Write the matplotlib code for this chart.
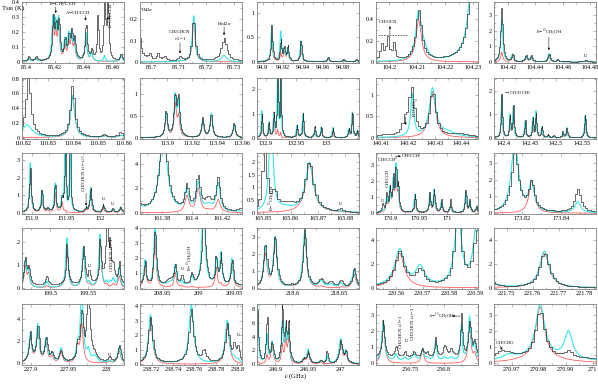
import matplotlib
matplotlib.use("Agg")
import matplotlib.pyplot as plt
from matplotlib.ticker import FixedLocator, FuncFormatter, AutoMinorLocator
import numpy as np

plt.rcParams["font.family"] = ["Liberation Serif", "DejaVu Serif"]
plt.rcParams["mathtext.fontset"] = "stix"

# ─── Line lists ──────────────────────────────────────────────
# (centre GHz, observed K, full model K, partial model K[, hwhm GHz])

LINES_P01 = [
    (85.4015, 0.03, 0.02, 0.02), (85.4065, 0.03, 0.02, 0.02),
    (85.4185, 0.28, 0.27, 0.24), (85.4205, 0.22, 0.22, 0.17),
    (85.4225, 0.26, 0.26, 0.21), (85.4268, 0.14, 0.13, 0.10),
    (85.4295, 0.16, 0.16, 0.12), (85.4315, 0.18, 0.17, 0.14),
    (85.4335, 0.13, 0.12, 0.10), (85.4415, 0.26, 0.19, 0.17),
    (85.4455, 0.07, 0.06, 0.06), (85.4497, 0.32, 0.0, 0.0, 0.0006),
    (85.4544, 0.50, 0.04, 0.0, 0.0006), (85.4567, 0.50, 0.0, 0.0, 0.0006),
    (85.4660, 0.05, 0.04, 0.04),
]
LINES_P02 = [
    (85.6955, 0.13, 0.0, 0.0, 0.001), (85.6995, 0.03, 0.0, 0.0),
    (85.7025, 0.03, 0.0, 0.0), (85.7050, 0.02, 0.0, 0.0),
    (85.7105, 0.02, 0.005, 0.005), (85.7155, 0.22, 0.215, 0.19),
    (85.7265, 0.105, 0.03, 0.0, 0.0012),
]
LINES_P03 = [
    (94.909, 0.74, 0.70, 0.50), (94.918, 0.45, 0.60, 0.15),
    (94.9215, 0.28, 0.24, 0.22), (94.9250, 0.33, 0.26, 0.25),
    (94.938, 0.43, 0.42, 0.36), (94.965, 0.09, 0.08, 0.06),
    (94.980, 0.05, 0.04, 0.03), (94.993, 0.05, 0.03, 0.03),
]
LINES_P04 = [
    (104.1972, 0.14, 0.0, 0.0, 0.0006), (104.1993, 0.21, 0.0, 0.0, 0.0006),
    (104.2016, 0.15, 0.0, 0.0, 0.0006), (104.2105, 0.47, 0.44, 0.39, 0.0012),
    (104.2125, 0.0, 0.08, 0.0, 0.0015), (104.2305, 1.2, 1.2, 0.0, 0.0018),
]
LINES_P05 = [
    (104.4153, 3.5, 2.7, 0.62), (104.4232, 0.48, 0.48, 0.33),
    (104.4331, 0.42, 0.37, 0.28), (104.4368, 0.37, 0.32, 0.27),
    (104.4499, 0.53, 0.53, 0.44), (104.4565, 0.16, 0.13, 0.10),
    (104.4770, 0.12, 0.08, 0.05),
]
LINES_P06 = [
    (110.8220, 0.80, 0.0, 0.0, 0.0012), (110.8215, 0.0, 0.17, 0.0, 0.0025),
    (110.8397, 0.72, 0.57, 0.54, 0.001), (110.8525, 0.03, 0.02, 0.02),
    (110.8590, 0.06, 0.03, 0.03),
]
LINES_P07 = [
    (113.8995, 0.62, 0.56, 0.52), (113.9067, 0.95, 0.92, 0.75),
    (113.9094, 0.90, 0.78, 0.45), (113.9288, 0.44, 0.40, 0.35),
    (113.9356, 0.56, 0.56, 0.50), (113.9539, 0.35, 0.30, 0.28),
]
LINES_P08 = [
    (132.894, 0.95, 1.10, 0.80), (132.9055, 0.6, 0.6, 0.5),
    (132.9137, 0.95, 0.9, 1.05), (132.920, 2.8, 2.8, 0.3, 0.001),
    (132.925, 2.8, 2.6, 0.2, 0.001), (132.9517, 0.5, 0.5, 0.45),
    (132.9616, 1.0, 0.95, 0.9), (132.981, 0.5, 0.3, 0.25),
    (132.9917, 0.46, 0.43, 0.36), (133.011, 0.38, 0.43, 0.28),
    (133.037, 0.33, 0.33, 0.28), (133.043, 1.1, 1.05, 1.0),
    (133.051, 0.28, 0.28, 0.23),
]
LINES_P09 = [
    (140.4291, 1.05, 1.12, 1.08, 0.0014), (140.4345, 0.0, 0.12, 0.0, 0.004),
    (140.4212, 1.15, 0.0, 0.0, 0.0012), (140.4186, 0.3, 0.0, 0.0, 0.001),
    (140.4215, 0.0, 1.0, 0.0, 0.0007), (140.4400, 0.08, 0.0, 0.0, 0.005),
    (140.4110, 0.05, 0.0, 0.0, 0.004),
]
LINES_P10 = [
    (142.397, 1.92, 1.82, 1.63), (142.4127, 0.9, 0.95, 0.8),
    (142.419, 1.35, 1.3, 1.25), (142.4413, 0.78, 0.68, 0.58),
    (142.4559, 0.8, 0.8, 0.66), (142.4622, 1.0, 1.12, 0.92),
    (142.473, 0.48, 0.43, 0.33), (142.485, 0.1, 0.08, 0.05),
    (142.495, 0.1, 0.05, 0.05), (142.513, 0.24, 0.2, 0.15),
    (142.5205, 0.43, 0.43, 0.36), (142.5553, 0.97, 0.94, 0.89),
]
LINES_P11 = [
    (151.8975, 2.5, 2.8, 2.5), (151.9146, 1.25, 1.2, 0.95),
    (151.923, 0.22, 0.18, 0.13), (151.934, 1.55, 1.6, 1.15),
    (151.9439, 0.7, 0.7, 0.62), (151.9487, 5.0, 5.0, 0.1, 0.001),
    (151.9560, 5.0, 4.0, 0.0, 0.001), (151.9794, 0.25, 0.2, 0.15),
    (151.986, 1.45, 1.4, 1.15), (152.0047, 0.42, 0.38, 0.24),
    (152.0184, 0.2, 0.15, 0.1), (152.030, 0.3, 0.3, 0.25),
]
LINES_P12 = [
    (161.381, 7.0, 6.5, 0.0, 0.003), (161.362, 1.0, 0.7, 0.0, 0.004),
    (161.3967, 2.0, 1.7, 1.35), (161.4042, 2.8, 2.3, 1.95),
    (161.4175, 2.6, 2.3, 1.05), (161.4110, 1.0, 0.5, 0.15, 0.003),
    (161.4360, 0.6, 0.2, 0.0, 0.004),
]
LINES_P13 = [
    (165.8505, 5.0, 0.0, 0.0, 0.0006), (165.8528, 0.0, 4.0, 0.0, 0.0008),
    (165.8540, 0.7, 0.0, 0.0, 0.0012), (165.8590, 0.3, 0.0, 0.0, 0.004),
    (165.8580, 0.0, 0.15, 0.0, 0.004), (165.8670, 1.95, 1.95, 1.9, 0.0018),
    (165.8785, 0.12, 0.02, 0.0, 0.0012),
]
LINES_P14 = [
    (170.8859, 0.45, 0.1, 0.05), (170.893, 1.1, 0.9, 0.75),
    (170.8988, 1.4, 1.4, 1.45), (170.9046, 2.1, 1.8, 1.8),
    (170.9094, 2.5, 2.7, 2.3), (170.9134, 1.5, 1.3, 1.1),
    (170.943, 1.1, 1.1, 1.0), (170.9694, 1.25, 1.15, 1.0),
    (170.977, 1.4, 1.4, 1.2), (170.990, 0.8, 0.7, 0.6),
    (171.006, 0.8, 0.45, 0.4), (171.033, 1.35, 1.25, 1.15),
    (171.040, 0.75, 0.65, 0.55), (171.052, 0.38, 0.33, 0.28),
]
LINES_P15 = [
    (173.8165, 3.8, 4.3, 0.0, 0.0022), (173.8251, 1.7, 1.7, 1.9, 0.0017),
    (173.8487, 1.35, 0.65, 0.0, 0.0018),
]
LINES_P16 = [
    (199.4674, 1.15, 1.15, 0.9), (199.4717, 0.7, 0.7, 0.55),
    (199.4957, 0.4, 0.28, 0.07), (199.5218, 1.75, 2.15, 1.8),
    (199.5435, 1.65, 1.75, 1.7), (199.5513, 0.55, 0.18, 0.08),
    (199.5653, 1.9, 2.3, 1.95), (199.5740, 3.5, 0.2, 0.1, 0.0015),
    (199.5785, 1.6, 0.2, 0.0, 0.0015), (199.5826, 0.7, 0.35, 0.15),
    (199.5904, 0.95, 0.9, 0.5),
]
LINES_P17 = [
    (208.9256, 1.6, 1.7, 1.55), (208.9395, 3.8, 4.2, 3.35),
    (208.9600, 0.4, 0.2, 0.0, 0.005), (208.9675, 1.3, 1.35, 1.0),
    (208.9768, 0.6, 0.3, 0.1), (208.9908, 0.75, 0.65, 0.05),
    (209.0070, 6.0, 6.0, 0.0, 0.0025), (209.0247, 1.8, 1.7, 1.35),
    (209.0313, 2.0, 2.1, 0.2), (209.0466, 1.7, 1.8, 1.85),
]
LINES_P18 = [
    (218.5697, 2.5, 2.4, 1.95), (218.5804, 3.0, 2.95, 2.8),
    (218.5980, 0.1, 0.08, 0.05), (218.6125, 3.45, 3.35, 3.15),
    (218.6304, 0.45, 0.4, 0.08, 0.003), (218.6410, 0.3, 0.2, 0.0, 0.003),
    (218.6518, 0.38, 0.28, 0.05), (218.6660, 1.15, 1.1, 0.82),
]
LINES_P19 = [
    (220.5612, 2.85, 3.05, 2.9), (220.5690, 1.25, 1.55, 0.0, 0.002),
    (220.5835, 6.0, 6.0, 0.0, 0.0015), (220.5905, 4.5, 5.0, 0.0, 0.0015),
]
LINES_P20 = [
    (221.7645, 2.9, 3.05, 2.9), (221.7420, 0.8, 0.8, 0.05, 0.003),
]
LINES_P21 = [
    (227.899, 2.7, 2.6, 2.35), (227.909, 3.3, 3.4, 3.05),
    (227.920, 2.1, 2.1, 1.75), (227.928, 0.8, 0.8, 0.5),
    (227.940, 1.0, 1.3, 0.95), (227.962, 1.3, 1.3, 1.4),
    (227.9676, 4.3, 6.5, 3.4), (227.9764, 7.0, 1.0, 0.0),
    (227.9850, 0.6, 0.6, 0.0, 0.004), (228.0043, 0.4, 0.2, 0.15),
    (228.0175, 1.55, 1.45, 1.15),
]
LINES_P22 = [
    (238.7190, 3.15, 3.35, 3.1), (238.7570, 3.7, 4.05, 0.0, 0.0025),
    (238.7690, 0.8, 0.0, 0.0, 0.002), (238.7905, 2.65, 2.95, 2.75),
    (238.7970, 1.0, 0.2, 0.0, 0.0015), (238.8005, 0.9, 0.2, 0.0, 0.0015),
]
LINES_P23 = [
    (246.8725, 8.5, 8.5, 0.5, 0.0015), (246.8870, 6.8, 4.0, 1.2, 0.0015),
    (246.8950, 2.8, 3.0, 2.6), (246.9105, 9.5, 5.5, 2.6, 0.0015),
    (246.9160, 5.0, 5.0, 3.3, 0.0018), (246.9205, 6.0, 4.2, 3.5, 0.0015),
    (246.9435, 0.7, 0.55, 0.45), (246.9500, 1.7, 2.0, 1.6),
    (246.9692, 0.42, 0.38, 0.28), (246.9790, 1.75, 1.15, 0.0, 0.0015),
    (247.0000, 3.3, 3.5, 3.1, 0.0028), (247.0080, 1.6, 1.6, 1.35),
]
LINES_P24 = [
    (256.7107, 2.4, 2.5, 2.7, 0.0024), (256.7294, 0.7, 0.4, 0.0),
    (256.7426, 0.35, 0.2, 0.0), (256.7559, 0.35, 0.4, 0.0, 0.003),
    (256.7687, 0.5, 0.7, 0.85), (256.7754, 0.3, 0.15, 0.0),
    (256.7880, 1.3, 1.25, 0.0, 0.0018), (256.8015, 0.7, 0.2, 0.0, 0.003),
    (256.8110, 0.5, 0.2, 0.0, 0.003), (256.8260, 2.7, 2.2, 0.0, 0.0015),
    (256.8380, 2.2, 2.7, 2.6, 0.0022), (256.8456, 1.0, 1.0, 0.55),
]
LINES_P25 = [
    (270.9805, 3.0, 3.3, 3.2, 0.002), (270.9810, 0.0, 0.25, 0.3, 0.01),
    (270.9690, 0.3, 0.3, 0.0, 0.003), (270.9660, 0.3, 0.0, 0.0, 0.002),
    (270.9910, 0.4, 1.7, 0.0, 0.0018),
]

LINES = [LINES_P01, LINES_P02, LINES_P03, LINES_P04, LINES_P05,
         LINES_P06, LINES_P07, LINES_P08, LINES_P09, LINES_P10,
         LINES_P11, LINES_P12, LINES_P13, LINES_P14, LINES_P15,
         LINES_P16, LINES_P17, LINES_P18, LINES_P19, LINES_P20,
         LINES_P21, LINES_P22, LINES_P23, LINES_P24, LINES_P25]

# default line half width (GHz) and spectrometer channel (GHz) per panel
HWHM = [0.0008, 0.0006, 0.0009, 0.001, 0.0009,
        0.001, 0.0011, 0.0012, 0.0012, 0.0013,
        0.0014, 0.0016, 0.0015, 0.0016, 0.0017,
        0.0018, 0.0018, 0.0022, 0.0022, 0.0022,
        0.0022, 0.0022, 0.0023, 0.0023, 0.0022]
CHAN = [0.0007, 0.0006, 0.0007, 0.0007, 0.0007,
        0.0008, 0.0008, 0.0009, 0.0009, 0.0009,
        0.001, 0.001, 0.001, 0.001, 0.001,
        0.0012, 0.0012, 0.0012, 0.0011, 0.0011,
        0.0012, 0.0012, 0.0012, 0.0013, 0.0011]
# continuum-like offsets (observed, full model, partial model)
BASE = [(0.005, 0, 0), (0.005, 0, 0), (0.005, 0, 0), (0.01, 0, 0), (0.02, 0, 0),
        (0.01, 0, 0), (0.01, 0, 0), (0.02, 0, 0), (0.0, 0, 0), (0.03, 0, 0),
        (0.05, 0.03, 0), (0.0, 0, 0), (0.0, 0, 0), (0.05, 0.03, 0), (0.05, 0, 0),
        (0.12, 0, 0), (0.15, 0.1, 0), (0.05, 0, 0), (0.1, 0.1, 0), (0.02, 0, 0),
        (0.1, 0, 0), (0.1, 0.05, 0), (0.1, 0.1, 0), (0.35, 0.15, 0), (0.3, 0.1, 0)]

XLIMS = [(85.397, 85.468), (85.696, 85.733), (94.8944, 94.9956), (104.1952, 104.2318), (104.4096, 104.4845),
         (110.8195, 110.8602), (113.8784, 113.9602), (132.886, 133.054), (140.4079, 140.4462), (142.3823, 142.576),
         (151.8854, 152.035), (161.3655, 161.4333), (165.8476, 165.8853), (170.874, 171.0548), (173.8058, 173.8581),
         (199.463, 199.5966), (208.9186, 209.0606), (218.5607, 218.6714), (220.5522, 220.5911), (221.7451, 221.7843),
         (227.888, 228.0239), (238.7092, 238.8042), (246.8718, 247.0281), (256.70, 256.8505), (270.9634, 271.0012)]
YLIMS = [(-0.01, 0.4), (-0.005, 0.28), (-0.03, 1.22), (-0.01, 0.56), (-0.07, 3.85),
         (-0.02, 0.81), (-0.03, 1.38), (-0.05, 2.47), (-0.03, 1.4), (-0.05, 2.55),
         (-0.08, 3.4), (-0.1, 4.9), (-0.05, 2.35), (-0.05, 3.75), (-0.05, 3.6),
         (-0.05, 2.6), (-0.1, 4.0), (-0.05, 3.55), (-0.1, 5.0), (-0.1, 5.0),
         (-0.15, 5.4), (-0.05, 4.15), (-0.1, 8.7), (-0.1, 3.7), (-0.1, 3.7)]
XTICKS = [[85.4, 85.42, 85.44, 85.46], [85.7, 85.71, 85.72, 85.73],
          [94.9, 94.92, 94.94, 94.96, 94.98], [104.2, 104.21, 104.22, 104.23],
          [104.42, 104.44, 104.46, 104.48],
          [110.82, 110.83, 110.84, 110.85, 110.86], [113.9, 113.92, 113.94, 113.96],
          [132.9, 132.95, 133], [140.41, 140.42, 140.43, 140.44], [142.4, 142.45, 142.5, 142.55],
          [151.9, 151.95, 152], [161.38, 161.4, 161.42], [165.85, 165.86, 165.87, 165.88],
          [170.9, 170.95, 171], [173.82, 173.84],
          [199.5, 199.55], [208.95, 209, 209.05], [218.6, 218.65],
          [220.56, 220.57, 220.58, 220.59], [221.75, 221.76, 221.77, 221.78],
          [227.9, 227.95, 228], [238.72, 238.74, 238.76, 238.78, 238.8],
          [246.9, 246.95, 247], [256.75, 256.8], [270.97, 270.98, 270.99, 271]]
YTICKS = [[0, 0.1, 0.2, 0.3, 0.4], [0, 0.1, 0.2], [0, 0.5, 1], [0, 0.2, 0.4], [0, 1, 2, 3],
          [0, 0.2, 0.4, 0.6, 0.8], [0, 0.5, 1], [0, 1, 2], [0, 0.5, 1], [0, 1, 2],
          [0, 1, 2, 3], [0, 2, 4], [0, 0.5, 1, 1.5, 2], [0, 1, 2, 3], [0, 1, 2, 3],
          [0, 1, 2], [0, 1, 2, 3, 4], [0, 1, 2, 3], [0, 2, 4], [0, 2, 4],
          [0, 2, 4], [0, 1, 2, 3, 4], [0, 2, 4, 6, 8], [0, 1, 2, 3], [0, 1, 2, 3]]

OBS_COLOR = "#303030"
FULL_COLOR = "#2fe6e6"
PART_COLOR = "#ff5050"
FRAME = "#808080"

W, H = 598, 384
COL_LEFT = [22, 140, 257, 376, 494]
ROW_TOP = [2, 78, 153, 228, 304]
PW, PH = 102, 61


def spectrum(x, lines, k, hw):
    y = np.zeros_like(x)
    for ln in lines:
        w = ln[4] if len(ln) > 4 else hw
        y += ln[k] / (1.0 + ((x - ln[0]) / w) ** 2)
    return y


def fmt(v, _pos=None):
    return f"{v:g}"


def txt(ax, x, y, s, **kw):
    kw.setdefault("fontsize", 3.3)
    ax.text(x, y, s, color="k", **kw)


def arrow(ax, x0, y0, x1, y1):
    ax.annotate("", xy=(x1, y1), xytext=(x0, y0),
                arrowprops=dict(arrowstyle="-|>", lw=0.35, color="k",
                                mutation_scale=3, shrinkA=0, shrinkB=0))


def labels(axes):
    a = axes
    txt(a[0], 85.4160, 0.372, "E$-$CH$_3^{13}$CCH")
    arrow(a[0], 85.4205, 0.366, 85.4205, 0.325)
    txt(a[0], 85.4272, 0.314, "A$-$CH$_3$CCH")
    arrow(a[0], 85.4412, 0.308, 85.4412, 0.275)
    txt(a[0], 85.4590, 0.398, "E$-$CH$_3$CCH", rotation=90, va="top", ha="center")
    arrow(a[0], 85.4580, 0.29, 85.4556, 0.29)

    txt(a[1], 85.6962, 0.24, "H42$\\alpha$")
    txt(a[1], 85.7105, 0.1, "CH$_2$CHCN\n$v_{11}$=1", ha="center", linespacing=0.9)
    arrow(a[1], 85.7105, 0.09, 85.7105, 0.04)
    txt(a[1], 85.7265, 0.172, "He42$\\alpha$", ha="center")
    arrow(a[1], 85.7265, 0.165, 85.7265, 0.125)

    a[3].plot([104.1958, 104.2065], [0.25, 0.25], ls=(0, (3, 2)), lw=0.4, color="k")
    arrow(a[3], 104.2002, 0.25, 104.2002, 0.335)
    txt(a[3], 104.1960, 0.36, "CH$_3$OCN")

    txt(a[4], 104.4499, 1.75, "E$-$$^{13}$CH$_3$OH", ha="center")
    arrow(a[4], 104.4499, 1.6, 104.4499, 0.75)
    txt(a[4], 104.477, 0.3, "U", ha="center")

    txt(a[8], 140.4212, 0.95, "$^{13}$CH$_3$OH", rotation=-90, va="top", ha="center")
    arrow(a[8], 140.4190, 0.5, 140.4190, 0.3)

    txt(a[9], 142.4005, 1.85, "$\\rightarrow$CH$_3$OCH$_3$")

    txt(a[10], 151.9772, 1.15, "CH$_2$CHCN $\\nu_{11}$=$\\nu_{15}$", rotation=90,
        va="bottom", ha="center")
    arrow(a[10], 151.9794, 1.1, 151.9794, 0.4)
    txt(a[10], 152.0047, 0.7, "U", ha="center")
    txt(a[10], 152.0184, 0.42, "U", ha="center")

    txt(a[12], 165.8534, 0.08, "E$-$$^{13}$CH$_3$OH", rotation=90, va="bottom", ha="center")
    txt(a[12], 165.8785, 0.3, "U", ha="center")

    txt(a[13], 170.8859, 0.7, "U", ha="center")
    txt(a[13], 170.8958, 1.6, "CH$_3$CCH", rotation=90, va="bottom", ha="center")
    txt(a[13], 170.8750, 3.2, "CH$_3$CCH")
    a[13].plot([170.9094, 170.9094], [3.35, 3.55], lw=0.35, color="k")
    arrow(a[13], 170.9094, 3.55, 170.918, 3.55)
    txt(a[13], 170.9185, 3.48, "CH$_3$CCH")

    txt(a[15], 199.5805, 0.7, "CH$_2$CHCN $\\nu_{11}$=1", rotation=90, va="bottom", ha="center")
    txt(a[15], 199.5513, 0.9, "U", ha="center")

    txt(a[16], 208.9895, 1.1, "E$-$$^{13}$CH$_3$OH", rotation=90, va="bottom", ha="center")
    txt(a[16], 208.9775, 1.15, "U", ha="center")

    txt(a[20], 228.0043, 0.7, "U", ha="center")
    txt(a[21], 238.8012, 1.95, "U", ha="center")

    txt(a[23], 256.7375, 0.9, "CH$_2$CHCN $\\nu_{15}$=1", rotation=90, va="bottom", ha="center")
    txt(a[23], 256.7555, 1.4, "CH$_2$CHCN $\\nu_{11}$=1", rotation=90, va="bottom", ha="center")
    txt(a[23], 256.7445, 1.35, "U", ha="center")
    txt(a[23], 256.7760, 2.8, "A$-$$^{13}$CH$_3$OH")
    arrow(a[23], 256.8245, 2.95, 256.8125, 2.95)

    txt(a[24], 270.9638, 1.2, "CH$_3$CHO")
    arrow(a[24], 270.9655, 1.12, 270.9665, 0.85)


def main():
    fig = plt.figure(figsize=(W / 100, H / 100), dpi=100)
    axes = []
    for i in range(25):
        r, c = divmod(i, 5)
        ax = fig.add_axes([COL_LEFT[c] / W, 1 - (ROW_TOP[r] + PH) / H, PW / W, PH / H])
        axes.append(ax)
        lines, hw = LINES[i], HWHM[i]
        x0, x1 = XLIMS[i]
        xf = np.linspace(x0, x1, 800)
        xc = np.arange(x0 - CHAN[i], x1 + CHAN[i], CHAN[i])
        ax.plot(xf, BASE[i][2] + spectrum(xf, lines, 3, hw), color=PART_COLOR, lw=0.55)
        ax.plot(xf, BASE[i][1] + spectrum(xf, lines, 2, hw), color=FULL_COLOR, lw=0.75)
        ax.step(xc, BASE[i][0] + spectrum(xc, lines, 1, hw), where="mid",
                color=OBS_COLOR, lw=0.5)
        ax.set_xlim(x0, x1)
        ax.set_ylim(*YLIMS[i])
        ax.xaxis.set_major_locator(FixedLocator(XTICKS[i]))
        ax.yaxis.set_major_locator(FixedLocator(YTICKS[i]))
        ax.xaxis.set_major_formatter(FuncFormatter(fmt))
        ax.yaxis.set_major_formatter(FuncFormatter(fmt))
        ax.xaxis.set_minor_locator(AutoMinorLocator(2))
        ax.yaxis.set_minor_locator(AutoMinorLocator(2))
        ax.tick_params(which="both", direction="in", top=True, right=True,
                       color=FRAME, width=0.4, labelsize=4.5, pad=1.5)
        ax.tick_params(which="major", length=2.2)
        ax.tick_params(which="minor", length=1.1)
        for sp in ax.spines.values():
            sp.set_color(FRAME)
            sp.set_linewidth(0.6)

    labels(axes)
    fig.text(0.001, 0.978, "T$_{\\rm MB}$ (K)", fontsize=4.8, va="center")
    fig.text(0.495, 0.008, "$\\nu$ (GHz)", fontsize=4.8, ha="center", va="bottom")
    fig.savefig("out.png", dpi=100)


if __name__ == "__main__":
    main()
